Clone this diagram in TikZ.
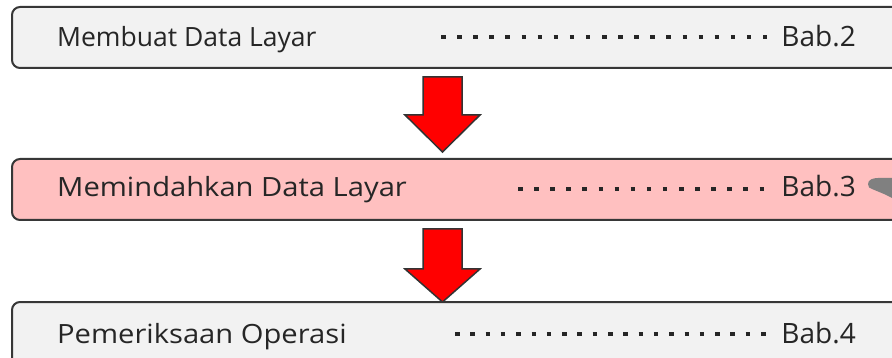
\documentclass[tikz,border=0pt]{standalone}
\usepackage{fontspec}
\setmainfont{Open Sans}

\definecolor{boxgray}{RGB}{242,242,242}
\definecolor{boxpink}{RGB}{255,192,192}
\definecolor{edgegray}{RGB}{55,55,55}
\definecolor{tabgray}{RGB}{128,128,128}

\tikzset{
  panel/.style={draw=edgegray, line width=2pt, rounded corners=8pt},
  boxlabel/.style={anchor=base west, inner sep=0pt, font=\fontsize{26.5}{30}\selectfont, text=black!85},
  boxref/.style={anchor=base east, inner sep=0pt, font=\fontsize{28}{30}\selectfont, text=black!85},
  leader/.style={line width=4.5pt, dash pattern=on 4.5pt off 11.6pt, black!85},
  downarrow/.style={fill=red, draw=black!80, line width=1.5pt, line join=miter}
}

\begin{document}
\begin{tikzpicture}[x=1pt, y=-1pt]
\useasboundingbox (0,0) rectangle (892,358);
\clip (0,0) rectangle (892,358);

% step 1
\draw[panel, fill=boxgray] (12,7) rectangle (920,68);
\node[boxlabel] (membuat) at (57,47) {Membuat Data Layar};
\node[boxref] (bab2) at (856,47) {Bab.2};
\coordinate (dots2a) at (441,37);
\coordinate (dots2b) at (767,37);
\draw[leader] (dots2a) -- (dots2b);

% arrow 1
\draw[downarrow] (423,77) --++ (39,0) --++ (0,38) --++ (18,0) --++ (-37.5,37) --++ (-37.5,-37) --++ (18,0) -- cycle;

% step 2
\draw[panel, fill=boxpink] (12,159) rectangle (920,220);
\node[boxlabel] (memindahkan) at (57,197) {\scalebox{1.1}[1]{Memindahkan Data Layar}};
\node[boxref] (bab3) at (856,197) {Bab.3};
\coordinate (dots3a) at (518,189);
\coordinate (dots3b) at (765,189);
\draw[leader] (dots3a) -- (dots3b);
\fill[tabgray] (868,184) to[out=90, in=180] (878,178) -- (892,178) -- (892,198) -- (884,194) -- (872,189) to[out=180, in=-90] (868,184) -- cycle;

% arrow 2
\draw[downarrow] (423,229) --++ (39,0) --++ (0,40) --++ (18,0) --++ (-37.5,33) --++ (-37.5,-33) --++ (18,0) -- cycle;

% step 3
\draw[panel, fill=boxgray] (12,302) rectangle (920,380);
\node[boxlabel] (pemeriksaan) at (57,343) {\scalebox{1.1}[1]{Pemeriksaan Operasi}};
\node[boxref] (bab4) at (856,343) {Bab.4};
\coordinate (dots4a) at (455,334);
\coordinate (dots4b) at (766,334);
\draw[leader, dash pattern=on 4.5pt off 10.8pt] (dots4a) -- (dots4b);
\end{tikzpicture}
\end{document}
